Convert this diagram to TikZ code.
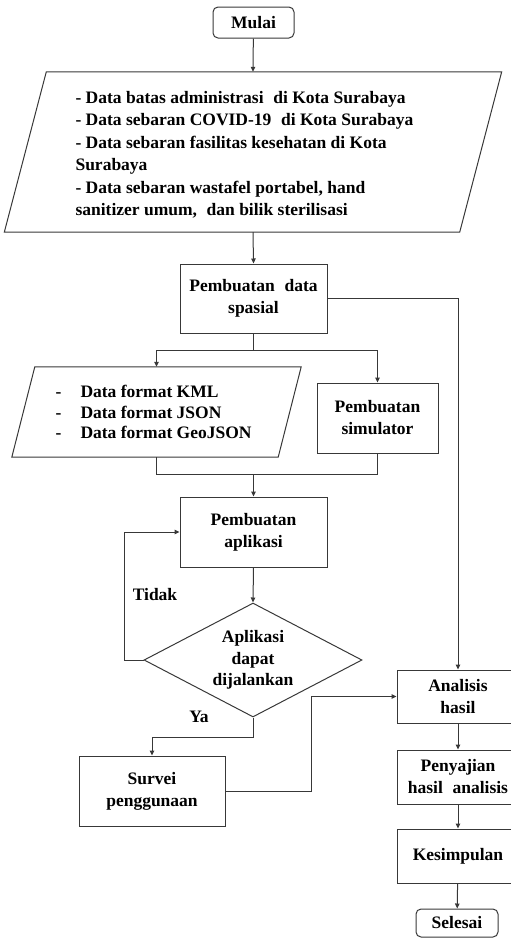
\documentclass[tikz,border=0pt]{standalone}
\usepackage{fontspec}
\setmainfont{Liberation Serif}
\usetikzlibrary{arrows.meta,shapes.geometric,calc}

\tikzset{
  line/.style={draw=black!78, line width=1pt},
  arr/.style={line, -{Triangle[length=5pt,width=4.5pt]}},
  txt/.style={font=\bfseries\fontsize{17.5}{22}\selectfont, align=center, text=black},
  procbox/.style={txt, line, rectangle, inner sep=0pt},
  termbox/.style={txt, line, rectangle, rounded corners=5pt, inner sep=0pt},
  decbox/.style={txt, line, diamond, inner sep=0pt, aspect=1.9},
  ioframe/.style={rectangle, inner sep=0pt},
  lbl/.style={font=\bfseries\fontsize{17.5}{22}\selectfont, text=black}
}
\newcommand{\wsp}{\hspace{0.3em}}

\begin{document}
\begin{tikzpicture}[x=1pt, y=-1pt]
\useasboundingbox (0,0) rectangle (511,938);
\clip (0,0) rectangle (511,938);

% start
\node[termbox, minimum width=81pt, minimum height=31pt] (start) at (253.5,22.5) {Mulai};

% input data (parallelogram)
\node[ioframe, minimum width=455pt, minimum height=160pt] (inp) at (253,152) {};
\draw[line] ($(inp.north west)+(21,0)$) -- ($(inp.north east)+(21,0)$)
  -- ($(inp.south east)+(-21,0)$) -- ($(inp.south west)+(-21,0)$) -- cycle;
\node[lbl, anchor=west, align=left, font=\bfseries\fontsize{17.5}{22.5}\selectfont] (inptext) at (72,155) {%
- Data batas administrasi\wsp{} di Kota Surabaya\\
- Data sebaran COVID-19\wsp{} di Kota Surabaya\\
- Data sebaran fasilitas kesehatan di Kota\\
Surabaya\\
- Data sebaran wastafel portabel, hand\\
sanitizer umum,\wsp{} dan bilik sterilisasi};

% spatial data
\node[procbox, minimum width=147pt, minimum height=69pt] (pds) at (253.5,298.5)
  {Pembuatan\wsp{} data\\ spasial};

% data formats (parallelogram)
\node[ioframe, minimum width=266pt, minimum height=90pt] (fmt) at (156.5,412) {};
\draw[line] ($(fmt.north west)+(11.5,0)$) -- ($(fmt.north east)+(11.5,0)$)
  -- ($(fmt.south east)+(-11.5,0)$) -- ($(fmt.south west)+(-11.5,0)$) -- cycle;
\node[lbl, anchor=west, align=left, font=\bfseries\fontsize{17.5}{20.5}\selectfont] (fmttext) at (52,412) {%
\makebox[25pt][l]{-}Data format KML\\
\makebox[25pt][l]{-}Data format JSON\\
\makebox[25pt][l]{-}Data format GeoJSON};

% simulator
\node[procbox, minimum width=121pt, minimum height=70pt] (sim) at (377.5,418)
  {Pembuatan\\ simulator};

% application
\node[procbox, minimum width=147pt, minimum height=70pt] (app) at (253.5,532)
  {Pembuatan\\ aplikasi};

% decision
\node[decbox, minimum width=218pt, minimum height=114pt,
  font=\bfseries\fontsize{17.5}{21.5}\selectfont] (dec) at (253,660)
  {Aplikasi\\ dapat\\ dijalankan};

% survey
\node[procbox, minimum width=146pt, minimum height=70pt] (sur) at (152,791)
  {Survei\\ penggunaan};

% right column
\node[procbox, minimum width=122pt, minimum height=53pt] (ana) at (458,696.5)
  {Analisis\\ hasil};
\node[procbox, minimum width=122pt, minimum height=54pt] (pen) at (458,777)
  {Penyajian\\ hasil\wsp{} analisis};
\node[procbox, minimum width=122pt, minimum height=54pt] (kes) at (458,856)
  {Kesimpulan};
\node[termbox, minimum width=82pt, minimum height=28pt] (end) at (457,923)
  {Selesai};

% labels
\node[lbl] (tidak) at (155,595) {Tidak};
\node[lbl] (ya) at (199,717) {Ya};

% connectors
\draw[arr] (start) -- (inp.north);
\draw[arr] (inp.south) -- (pds.north);
\coordinate (split) at ($(pds.south)+(0,17)$);
\draw[line] (pds.south) -- (split);
\draw[arr] (split) -| (fmt.north);
\draw[arr] (split) -| (sim.north);
\draw[arr] (pds.east) -| (ana.north);
\coordinate (merge) at ($(app.north)+(0,-22)$);
\draw[line] (fmt.south) |- (merge);
\draw[line] (sim.south) |- (merge);
\draw[arr] (merge) -- (app.north);
\draw[arr] (app.south) -- (dec.north);
\draw[arr] (dec.west) -- ++(-19,0) |- (app.west);
\draw[arr] (dec.south) -- ++(0,20) -| (sur.north);
\draw[arr] (sur.east) -- ++(86,0) |- (ana.west);
\draw[arr] (ana) -- (pen);
\draw[arr] (pen) -- (kes);
\draw[arr] (kes) -- (end);
\end{tikzpicture}
\end{document}
